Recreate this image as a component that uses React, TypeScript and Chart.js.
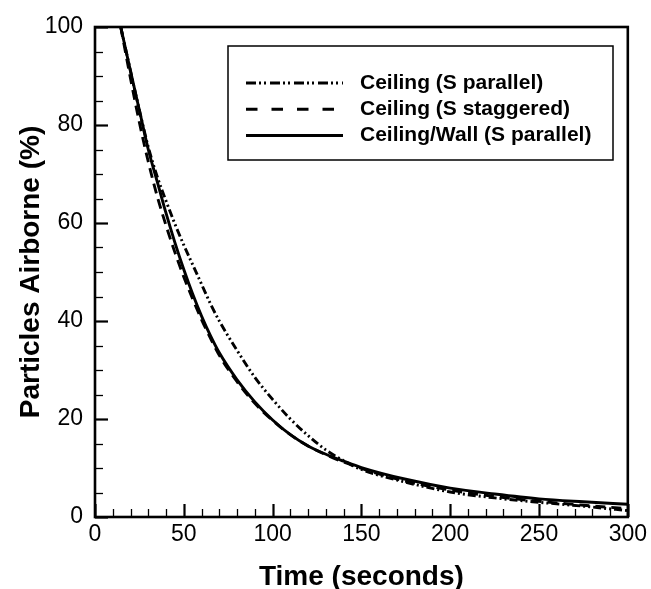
import React, { useEffect, useRef } from "react";
import { Chart, registerables } from "chart.js";

Chart.register(...registerables);

// ---- data ----
const timeSec = [14.5, 20, 25, 30, 35, 40, 45, 50, 55, 60, 65, 70, 80, 90, 100, 110, 120, 130, 140, 150, 175, 200, 225, 250, 275, 300];
const ceilingParallel = [100, 91, 83, 75.5, 69.5, 64.5, 59.8, 55.5, 51.5, 47.5, 43.5, 40, 34, 28.5, 24, 20, 16.6, 13.7, 11.5, 9.7, 7.1, 5.1, 3.9, 3.0, 2.2, 1.3];
const ceilingStaggered = [100, 89.5, 80.5, 72.5, 65.5, 59.5, 54, 49, 44.5, 40.3, 36.5, 33, 27.6, 23.2, 19.7, 16.8, 14.5, 12.7, 11.2, 9.9, 7.3, 5.5, 4.2, 3.2, 2.4, 1.7];
const ceilingWallParallel = [100, 91, 83, 75, 68.5, 62, 56, 50.5, 45.5, 41, 37, 33.5, 28, 23.5, 19.8, 16.8, 14.5, 12.8, 11.4, 10.1, 7.7, 5.9, 4.7, 3.7, 3.1, 2.6];
const seriesLabels = ["Ceiling (S parallel)", "Ceiling (S staggered)", "Ceiling/Wall (S parallel)"];
const xRange = [0, 300];
const yRange = [0, 100];
const xMajorStep = 50;
const xMinorStep = 10;
const yMajorStep = 20;
const yMinorStep = 5;
const xTitle = "Time (seconds)";
const yTitle = "Particles Airborne (%)";

// ---- styles ----
const FONT = "'Liberation Sans', Arial, Helvetica, sans-serif";
const plotDashes = [[8, 3, 2, 3, 2, 3], [10, 6], []];
const legendDashes = [[10, 3, 2, 3, 2, 4], [11.5, 14], []];
const legendLineEnd = [97, 88, 97];

const frameLegendPlugin = {
  id: "frameLegend",
  afterDraw(chart: any) {
    const { ctx, chartArea: a, scales } = chart;
    const xs = scales.x;
    const ys = scales.y;
    ctx.save();
    ctx.strokeStyle = "#000";
    ctx.setLineDash([]);
    ctx.lineCap = "butt";
    // inward ticks on x axis
    for (let v = xRange[0]; v <= xRange[1] + 1e-9; v += xMinorStep) {
      const px = Math.round(xs.getPixelForValue(v)) + 0.5;
      const major = Math.abs(v % xMajorStep) < 1e-9;
      ctx.lineWidth = major ? 2.2 : 1.3;
      const len = major ? 13 : 8;
      ctx.beginPath();
      ctx.moveTo(px, a.bottom);
      ctx.lineTo(px, a.bottom - len);
      ctx.stroke();
    }
    // inward ticks on y axis
    for (let v = yRange[0]; v <= yRange[1] + 1e-9; v += yMinorStep) {
      const py = Math.round(ys.getPixelForValue(v)) + 0.5;
      const major = Math.abs(v % yMajorStep) < 1e-9;
      ctx.lineWidth = major ? 2.2 : 1.3;
      const len = major ? 13 : 8;
      ctx.beginPath();
      ctx.moveTo(a.left, py);
      ctx.lineTo(a.left + len, py);
      ctx.stroke();
    }
    // frame
    ctx.lineWidth = 2.6;
    ctx.strokeRect(a.left, a.top, a.right - a.left, a.bottom - a.top);

    // legend box
    const bx = a.left + 133;
    const by = a.top + 19;
    const bw = 385;
    const bh = 114;
    ctx.fillStyle = "#fff";
    ctx.fillRect(bx, by, bw, bh);
    ctx.lineWidth = 1.5;
    ctx.strokeRect(bx, by, bw, bh);
    ctx.font = `bold 21px ${FONT}`;
    ctx.textBaseline = "middle";
    ctx.textAlign = "left";
    ctx.fillStyle = "#000";
    const datasets = chart.data.datasets;
    for (let i = 0; i < datasets.length; i++) {
      const ry = by + 37 + i * 26.2;
      ctx.lineWidth = 3;
      ctx.setLineDash(legendDashes[i]);
      ctx.beginPath();
      ctx.moveTo(bx + 18, ry);
      ctx.lineTo(bx + 18 + legendLineEnd[i], ry);
      ctx.stroke();
      ctx.setLineDash([]);
      ctx.fillText(datasets[i].label, bx + 132, ry);
    }
    ctx.restore();
  },
};

export default function App() {
  const canvasRef = useRef<HTMLCanvasElement | null>(null);

  useEffect(() => {
    document.body.style.margin = "0";
    const canvas = canvasRef.current;
    if (!canvas) return;
    const series = [ceilingParallel, ceilingStaggered, ceilingWallParallel];
    const chart = new Chart(canvas, {
      type: "line",
      data: {
        datasets: series.map((vals, i) => ({
          label: seriesLabels[i],
          data: timeSec.map((t, j) => ({ x: t, y: vals[j] })),
          borderColor: "#000",
          borderWidth: 2.9,
          borderDash: plotDashes[i],
          pointRadius: 0,
          fill: false,
          cubicInterpolationMode: "monotone" as const,
        })),
      },
      options: {
        animation: false,
        responsive: false,
        maintainAspectRatio: false,
        layout: { padding: { top: 27, right: 22, bottom: 0, left: 0 } },
        plugins: {
          legend: { display: false },
          tooltip: { enabled: false },
        },
        scales: {
          x: {
            type: "linear",
            min: xRange[0],
            max: xRange[1],
            grid: { display: false, drawTicks: false },
            border: { display: false },
            ticks: {
              stepSize: xMajorStep,
              color: "#000",
              padding: 4,
              font: { family: FONT, size: 23 },
              maxRotation: 0,
            },
            title: {
              display: true,
              text: xTitle,
              color: "#000",
              font: { family: FONT, size: 28, weight: "bold", lineHeight: 1 },
              padding: { top: 0, bottom: -2 },
            },
            afterFit(scale: any) {
              scale.height = 72;
            },
          },
          y: {
            type: "linear",
            min: yRange[0],
            max: yRange[1],
            grid: { display: false, drawTicks: false },
            border: { display: false },
            ticks: {
              stepSize: yMajorStep,
              color: "#000",
              padding: 12,
              font: { family: FONT, size: 23 },
            },
            title: {
              display: true,
              text: yTitle,
              color: "#000",
              font: { family: FONT, size: 28, weight: "bold", lineHeight: 1 },
              padding: { top: 17, bottom: 0 },
            },
            afterFit(scale: any) {
              scale.width = 95;
            },
          },
        },
      },
      plugins: [frameLegendPlugin],
    });
    return () => chart.destroy();
  }, []);

  return (
    <div style={{ width: 651, height: 589, background: "#fff" }}>
      <canvas ref={canvasRef} width={651} height={589} style={{ display: "block" }} />
    </div>
  );
}
